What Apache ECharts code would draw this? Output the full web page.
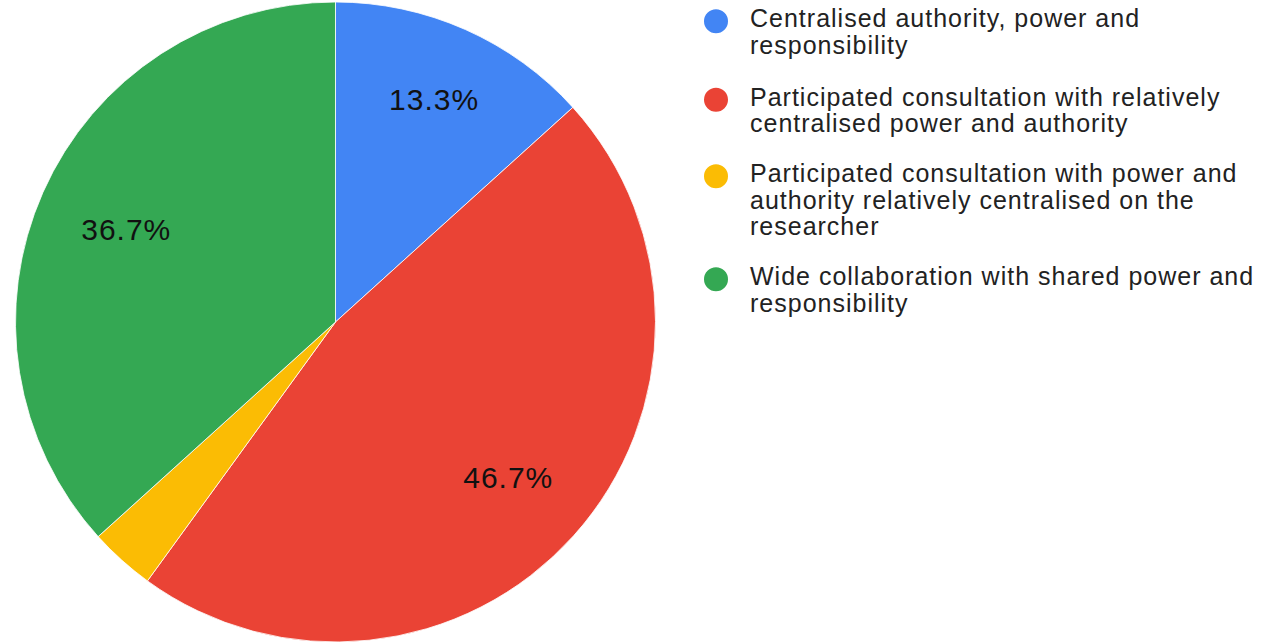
<!DOCTYPE html>
<html>
<head>
<meta charset="utf-8">
<script src="https://cdn.jsdelivr.net/npm/echarts@6/dist/echarts.min.js"></script>
<style>
  html, body { margin: 0; padding: 0; background: #fff; }
  #chart { width: 1264px; height: 642px; }
  /* slightly looser tracking for all chart text */
  #chart svg text { letter-spacing: 1px; }
</style>
</head>
<body>
<div id="chart"></div>
<script>
// Shares of decision-making models (percent)
const categories = [
  'Centralised authority, power and responsibility',
  'Participated consultation with relatively centralised power and authority',
  'Participated consultation with power and authority relatively centralised on the researcher',
  'Wide collaboration with shared power and responsibility'
];
const legendLines = [
  ['Centralised authority, power and', 'responsibility'],
  ['Participated consultation with relatively', 'centralised power and authority'],
  ['Participated consultation with power and', 'authority relatively centralised on the', 'researcher'],
  ['Wide collaboration with shared power and', 'responsibility']
];
const shares = [13.3, 46.7, 3.3, 36.7];
const colors = ['#4285f4', '#ea4335', '#fbbc04', '#34a853'];
const showLabel = [true, true, false, true];

const FONT = '"Liberation Sans", Arial, sans-serif';
const LINE_H = 26.5;
const PIE_CX = 335.5, PIE_CY = 322, PIE_R = 320;
const LABEL_EDGE = 0.856; // outer edge of each slice label, as a fraction of the radius
const legendTops = [4, 82.5, 159, 262];

// Legend icon: a dot aligned with the first text line, inside a box as tall as the text block
function dotIcon(lines) {
  const h = lines * LINE_H;
  const cy = LINE_H / 2 + 3;
  return 'path://M0,0M42,' + h + 'M0,' + cy + 'A13,13,0,1,1,26,' + cy + 'A13,13,0,1,1,0,' + cy + 'Z';
}

const legends = categories.map((name, i) => ({
  data: [{ name: name, icon: dotIcon(legendLines[i].length) }],
  orient: 'vertical',
  left: 702,
  top: legendTops[i],
  padding: 0,
  itemWidth: 42,
  itemHeight: legendLines[i].length * LINE_H,
  selectedMode: false,
  formatter: () => legendLines[i].join('\n'),
  textStyle: { fontFamily: FONT, fontSize: 25, lineHeight: LINE_H, color: '#222' }
}));

const chart = echarts.init(document.getElementById('chart'), null, { renderer: 'svg' });
chart.setOption({
  animation: false,
  backgroundColor: '#fff',
  legend: legends,
  series: [{
    type: 'pie',
    center: [PIE_CX, PIE_CY],
    radius: PIE_R,
    startAngle: 90,
    clockwise: true,
    avoidLabelOverlap: false,
    itemStyle: { borderColor: '#fff', borderWidth: 0.8 },
    label: {
      show: true,
      position: 'inside',
      fontFamily: FONT,
      fontSize: 30,
      color: '#111',
      formatter: p => p.value + '%'
    },
    labelLine: { show: false },
    // push each label outward along its slice bisector so its box edge sits near the rim
    labelLayout: function (p) {
      const r = p.labelRect;
      const lx = r.x + r.width / 2, ly = r.y + r.height / 2;
      const dx = lx - PIE_CX, dy = ly - PIE_CY;
      const len = Math.sqrt(dx * dx + dy * dy) || 1;
      const ux = dx / len, uy = dy / len;
      const extent = (r.width / 2) * Math.abs(ux) + (r.height / 2) * Math.abs(uy);
      const dist = LABEL_EDGE * PIE_R - extent;
      return {
        x: PIE_CX + ux * dist,
        y: PIE_CY + uy * dist,
        align: 'center',
        verticalAlign: 'middle'
      };
    },
    data: categories.map((name, i) => ({
      name: name,
      value: shares[i],
      itemStyle: { color: colors[i] },
      label: { show: showLabel[i] }
    }))
  }]
});
</script>
</body>
</html>
